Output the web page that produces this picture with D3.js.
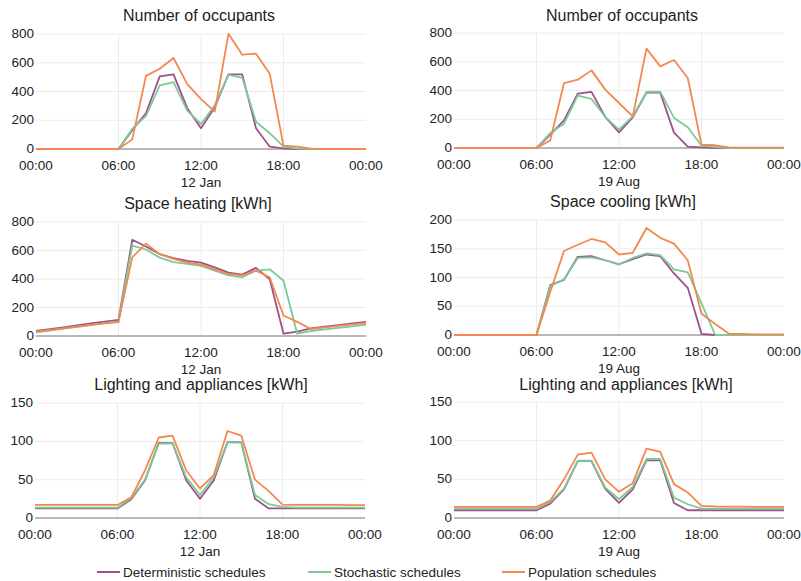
<!DOCTYPE html>
<html><head><meta charset="utf-8">
<script src="https://cdn.jsdelivr.net/npm/d3@7"></script>
<style>
body{margin:0;background:#fff;}
text{font-family:"Liberation Sans",Arial,sans-serif;fill:#222;}
</style></head>
<body><svg id="c" width="801" height="581"></svg>
<script>
const hours = [0,1,2,3,4,5,6,7,8,9,10,11,12,13,14,15,16,17,18,19,20,21,22,23,24];
const xTickHours = [0,6,12,18,24];
const xTickLabels = ["00:00","06:00","12:00","18:00","00:00"];
const seriesNames = ["Deterministic schedules","Stochastic schedules","Population schedules"];
const seriesColors = ["#9d5289","#7acb98","#f5874f"];

// Number of occupants - 12 Jan
const occJanDet = [0,0,0,0,0,0,0,130,250,505,519,284,144,291,519,519,144,16,5,0,0,0,0,0,0];
const occJanSto = [0,0,0,0,0,0,0,140,230,442,465,267,174,305,516,495,190,110,16,2,0,0,0,0,0];
const occJanPop = [0,0,0,0,0,0,0,67,509,558,633,451,347,260,802,656,663,523,23,16,2,0,0,0,0];
// Number of occupants - 19 Aug
const occAugDet = [0,0,0,0,0,0,0,93,192,378,390,216,109,213,385,385,107,9,5,0,0,0,0,0,0];
const occAugSto = [0,0,0,0,0,0,0,104,169,364,341,216,128,220,390,392,209,144,16,7,0,0,0,0,0];
const occAugPop = [0,0,0,0,0,0,0,53,452,475,540,406,313,220,691,568,612,487,23,19,5,3,3,3,3];
// Space heating - 12 Jan
const heatDet = [35,48,61,75,88,101,113,675,628,574,546,527,515,482,445,431,478,398,16,31,54,65,76,88,99];
const heatSto = [25,38,51,64,77,90,103,635,607,550,518,506,492,459,426,412,459,468,388,16,35,46,57,68,80];
const heatPop = [30,42,54,66,78,88,97,552,648,574,541,515,501,468,435,426,459,412,144,99,49,60,71,81,92];
// Space cooling - 19 Aug
const coolDet = [0,0,0,0,0,0,0,87,96,136,137,130,123,132,140,137,107,82,2,0,0,0,0,0,0];
const coolSto = [0,0,0,0,0,0,0,85,97,134,135,130,123,134,142,139,114,109,55,0,0,0,0,0,0];
const coolPop = [0,0,0,0,0,0,0,75,146,157,167,161,140,143,186,169,159,130,37,19,2,2,1,1,1];
// Lighting and appliances - 12 Jan
const lightJanDet = [12.5,12.5,12.5,12.5,12.5,12.5,12.5,24.5,49,98,98,49,25,49,99,99,25,12.5,12.5,12.5,12.5,12.5,12.5,12.5,12.5];
const lightJanSto = [13.5,13.5,13.5,13.5,13.5,13.5,13.5,26,50,97,97.5,53,30,53,98.5,98.8,30,18,14.4,13.6,13.5,13.5,13.5,13.5,13.5];
const lightJanPop = [17,17,17,17,17,17,17,27,62,105,107.5,62,38.5,56,113.5,107.5,50,35,17.5,17.2,17,17,17,16.8,16.8];
// Lighting and appliances - 19 Aug
const lightAugDet = [10,10,10,10,10,10,10,18.6,37,73.7,73.7,37.7,19.5,37,74.6,74.6,19.5,10,10,10,10,10,10,10,10];
const lightAugSto = [12,12,12,12,12,12,12,20.8,38,74,74,39.4,24.3,40.3,76.3,76.3,26.4,17.8,12.1,12,12,12,12,12,12];
const lightAugPop = [14.3,14.3,14.3,14.3,14.3,14.3,14.3,22.5,50,82,84.5,50,33.8,45,89.7,85.4,43.8,33,15.6,15,14.8,14.6,14.5,14.4,14.3];

const panels = [
  {title:"Number of occupants", date:"12 Jan", data:[occJanDet,occJanSto,occJanPop], yMax:800, yTicks:[0,200,400,600,800],
   x0:36,x1:366,top:34,bot:149,titleX:199,titleY:21},
  {title:"Number of occupants", date:"19 Aug", data:[occAugDet,occAugSto,occAugPop], yMax:800, yTicks:[0,200,400,600,800],
   x0:454,x1:784,top:33,bot:148,titleX:622,titleY:21},
  {title:"Space heating [kWh]", date:"12 Jan", data:[heatDet,heatSto,heatPop], yMax:800, yTicks:[0,200,400,600,800],
   x0:36,x1:366,top:222,bot:336,titleX:198,titleY:209},
  {title:"Space cooling [kWh]", date:"19 Aug", data:[coolDet,coolSto,coolPop], yMax:200, yTicks:[0,50,100,150,200],
   x0:454,x1:784,top:220,bot:335,titleX:623,titleY:207},
  {title:"Lighting and appliances [kWh]", date:"12 Jan", data:[lightJanDet,lightJanSto,lightJanPop], yMax:150, yTicks:[0,50,100,150],
   x0:35,x1:365,top:403,bot:518,titleX:201,titleY:390},
  {title:"Lighting and appliances [kWh]", date:"19 Aug", data:[lightAugDet,lightAugSto,lightAugPop], yMax:150, yTicks:[0,50,100,150],
   x0:454,x1:784,top:402,bot:518,titleX:626,titleY:390}
];

const svg = d3.select("#c");
panels.forEach(p => {
  const g = svg.append("g");
  const x = d3.scaleLinear().domain([0,24]).range([p.x0,p.x1]);
  const y = d3.scaleLinear().domain([0,p.yMax]).range([p.bot,p.top]);
  // horizontal grid
  g.selectAll(".hg").data(p.yTicks.filter(t=>t>0)).join("line")
    .attr("x1",p.x0).attr("x2",p.x1).attr("y1",d=>y(d)).attr("y2",d=>y(d))
    .attr("stroke","#ececec").attr("stroke-width",1);
  // vertical grid
  g.selectAll(".vg").data([6,12,18]).join("line")
    .attr("x1",d=>x(d)).attr("x2",d=>x(d)).attr("y1",p.top).attr("y2",p.bot)
    .attr("stroke","#ececec").attr("stroke-width",1);
  // baseline
  g.append("line").attr("x1",p.x0).attr("x2",p.x1).attr("y1",y(0)).attr("y2",y(0))
    .attr("stroke","#a0a0a0").attr("stroke-width",1.5);
  // y axis labels
  g.selectAll(".yl").data(p.yTicks).join("text")
    .attr("x",p.x0-2).attr("y",d=>y(d)).attr("dy","0.3em")
    .attr("text-anchor","end").attr("font-size","13.5px").text(d=>d);
  // x axis labels
  g.selectAll(".xl").data(xTickHours).join("text")
    .attr("x",d=>x(d)).attr("y",p.bot+21).attr("text-anchor","middle")
    .attr("font-size","13.5px").text((d,i)=>xTickLabels[i]);
  g.append("text").attr("x",x(12)).attr("y",p.bot+38).attr("text-anchor","middle")
    .attr("font-size","13.5px").text(p.date);
  g.append("text").attr("x",p.titleX).attr("y",p.titleY).attr("text-anchor","middle")
    .attr("font-size","16px").text(p.title);
  const line = d3.line().x((d,i)=>x(hours[i])).y(d=>y(d));
  p.data.forEach((s,k)=>{
    g.append("path").datum(s).attr("d",line).attr("fill","none")
      .attr("stroke",seriesColors[k]).attr("stroke-width",1.8).attr("stroke-linejoin","round");
  });
});

// legend
const legX = [97,308,502];
const lg = svg.append("g");
seriesNames.forEach((n,i)=>{
  lg.append("line").attr("x1",legX[i]).attr("x2",legX[i]+23).attr("y1",572).attr("y2",572)
    .attr("stroke",seriesColors[i]).attr("stroke-width",2);
  lg.append("text").attr("x",legX[i]+26).attr("y",577).attr("font-size","13.5px").text(n);
});
</script></body></html>
